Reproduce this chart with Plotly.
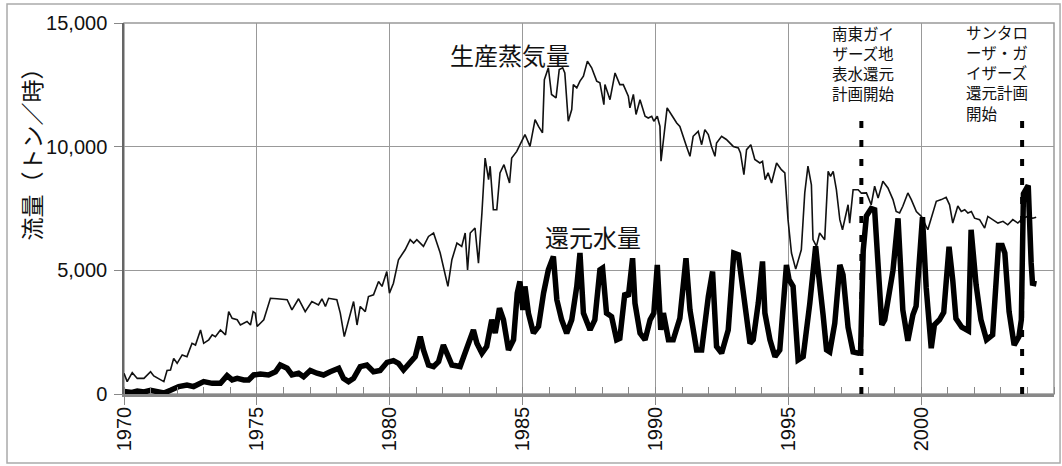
import plotly.graph_objects as go

# ---------------- data ----------------
steam_year = [
    1970.00, 1970.12, 1970.31, 1970.50, 1970.75, 1971.00, 1971.12, 1971.37, 1971.50, 1971.62,
    1971.75, 1971.87, 1972.00, 1972.19, 1972.37, 1972.56, 1972.69, 1972.88, 1973.00, 1973.19,
    1973.32, 1973.44, 1973.63, 1973.82, 1973.94, 1974.07, 1974.26, 1974.38, 1974.63, 1974.76,
    1974.86, 1974.94, 1975.01, 1975.26, 1975.51, 1975.76, 1976.14, 1976.32, 1976.57, 1976.82,
    1977.07, 1977.32, 1977.45, 1977.58, 1977.70, 1978.01, 1978.14, 1978.29, 1978.45, 1978.64,
    1978.77, 1978.89, 1979.08, 1979.20, 1979.39, 1979.58, 1979.71, 1979.89, 1979.99, 1980.14,
    1980.33, 1980.58, 1980.77, 1980.90, 1981.02, 1981.27, 1981.46, 1981.65, 1981.90, 1982.09,
    1982.19, 1982.34, 1982.53, 1982.71, 1982.84, 1982.93, 1983.03, 1983.21, 1983.34, 1983.47,
    1983.59, 1983.72, 1983.78, 1983.90, 1984.03, 1984.15, 1984.30, 1984.51, 1984.59, 1984.78,
    1984.97, 1985.09, 1985.28, 1985.47, 1985.60, 1985.75, 1985.82, 1985.97, 1986.09, 1986.26,
    1986.38, 1986.51, 1986.59, 1986.72, 1986.85, 1986.91, 1987.04, 1987.16, 1987.29, 1987.44,
    1987.60, 1987.79, 1987.91, 1988.06, 1988.10, 1988.29, 1988.48, 1988.66, 1988.79, 1988.98,
    1989.04, 1989.17, 1989.27, 1989.42, 1989.61, 1989.73, 1989.86, 1989.94, 1990.07, 1990.17,
    1990.21, 1990.30, 1990.44, 1990.64, 1990.80, 1990.92, 1991.05, 1991.17, 1991.30, 1991.42,
    1991.61, 1991.74, 1991.86, 1991.99, 1992.11, 1992.24, 1992.30, 1992.49, 1992.67, 1992.93,
    1993.12, 1993.20, 1993.33, 1993.43, 1993.59, 1993.74, 1993.93, 1994.03, 1994.13, 1994.24,
    1994.37, 1994.56, 1994.74, 1994.87, 1994.99, 1995.12, 1995.28, 1995.49, 1995.62, 1995.74,
    1995.87, 1995.93, 1996.06, 1996.18, 1996.37, 1996.50, 1996.59, 1996.69, 1996.81, 1996.94,
    1997.04, 1997.25, 1997.31, 1997.44, 1997.63, 1997.75, 1997.94, 1998.12, 1998.25, 1998.38,
    1998.56, 1998.75, 1998.94, 1999.06, 1999.19, 1999.31, 1999.50, 1999.63, 1999.82, 2000.01,
    2000.25, 2000.44, 2000.57, 2000.76, 2000.94, 2001.07, 2001.19, 2001.38, 2001.51, 2001.64,
    2001.76, 2001.89, 2002.01, 2002.20, 2002.39, 2002.51, 2002.70, 2002.89, 2003.08, 2003.26,
    2003.45, 2003.64, 2003.83, 2004.01, 2004.20, 2004.33,
]
steam_flow = [
    840, 500, 860, 630, 630, 900, 730, 570, 500, 950,
    970, 1440, 1240, 1580, 1510, 2050, 1980, 2590, 2050, 2190,
    2390, 2320, 2590, 2390, 3330, 3060, 3000, 2790, 2930, 2790,
    3330, 3270, 2730, 3000, 3870, 3850, 3810, 3400, 3850, 3330,
    3740, 3600, 3850, 3540, 3870, 3810, 3270, 2320, 2930, 3740,
    2790, 3540, 3330, 3940, 4010, 4550, 4350, 4950, 4080, 4480,
    5430, 5830, 6240, 6100, 6240, 5970, 6370, 6510, 5700, 4890,
    4350, 5430, 6100, 5970, 6510, 5020, 6510, 6710, 5290, 7320,
    9540, 8670, 9210, 7450, 7450, 8940, 9270, 8530, 9540, 9810,
    10220, 10490, 10010, 11090, 10820, 10560, 12710, 13190, 12110, 11970,
    13120, 13190, 12980, 11030, 11500, 12510, 12380, 12650, 12850, 13460,
    13190, 12650, 12580, 11700, 12510, 11900, 12980, 12510, 12510, 12040,
    11570, 12110, 11300, 11900, 11230, 11160, 11230, 11030, 11230, 10820,
    9410, 10290, 11570, 11230, 10960, 10820, 10350, 10010, 9610, 10420,
    10620, 10080, 10690, 10490, 10010, 9610, 10150, 10420, 10290, 10010,
    9950, 9750, 8870, 9880, 10080, 9480, 9340, 9410, 8670, 8940,
    8530, 9340, 9070, 8940, 7050, 5700, 5050, 5830, 8130, 9210,
    8460, 6240, 5970, 6510, 6240, 9000, 8800, 9000, 8260, 7050,
    6640, 7650, 6910, 8260, 8260, 8120, 8130, 7650, 8400, 7920,
    8600, 8330, 7860, 7380, 7320, 7590, 8130, 7860, 7380, 7180,
    6640, 7380, 7790, 7860, 7950, 7650, 6910, 7600, 7380, 7450,
    7320, 7380, 7110, 7050, 6710, 7180, 7050, 6910, 6980, 6840,
    7050, 6910, 7110, 7180, 7110, 7150,
]

inj_year = [
    1970.00, 1970.30, 1970.50, 1970.75, 1971.00, 1971.30, 1971.50, 1971.75, 1972.06, 1972.37,
    1972.62, 1973.00, 1973.32, 1973.63, 1973.88, 1974.07, 1974.26, 1974.51, 1974.69, 1974.88,
    1975.13, 1975.44, 1975.70, 1975.88, 1976.14, 1976.32, 1976.57, 1976.76, 1977.01, 1977.26,
    1977.51, 1977.76, 1978.08, 1978.26, 1978.45, 1978.64, 1978.89, 1979.14, 1979.39, 1979.64,
    1979.90, 1980.14, 1980.33, 1980.52, 1980.77, 1980.96, 1981.15, 1981.27, 1981.46, 1981.65,
    1981.84, 1982.02, 1982.15, 1982.34, 1982.65, 1982.90, 1983.15, 1983.28, 1983.47, 1983.65,
    1983.84, 1983.97, 1984.13, 1984.28, 1984.47, 1984.66, 1984.80, 1984.90, 1985.01, 1985.09,
    1985.22, 1985.41, 1985.60, 1985.79, 1985.97, 1986.16, 1986.29, 1986.47, 1986.66, 1986.85,
    1987.04, 1987.16, 1987.29, 1987.54, 1987.72, 1987.91, 1988.01, 1988.16, 1988.35, 1988.54,
    1988.66, 1988.85, 1988.98, 1989.14, 1989.23, 1989.42, 1989.61, 1989.80, 1989.94, 1990.07,
    1990.20, 1990.30, 1990.49, 1990.67, 1990.92, 1991.15, 1991.30, 1991.55, 1991.74, 1991.99,
    1992.15, 1992.30, 1992.49, 1992.74, 1992.95, 1993.12, 1993.31, 1993.56, 1993.68, 1993.87,
    1994.03, 1994.12, 1994.31, 1994.50, 1994.68, 1994.93, 1995.03, 1995.18, 1995.37, 1995.56,
    1995.81, 1996.03, 1996.12, 1996.19, 1996.31, 1996.44, 1996.56, 1996.75, 1996.94, 1997.06,
    1997.25, 1997.44, 1997.63, 1997.72, 1997.82, 1997.94, 1998.12, 1998.25, 1998.38, 1998.52,
    1998.63, 1998.75, 1998.94, 1999.13, 1999.22, 1999.31, 1999.50, 1999.69, 1999.81, 1999.94,
    2000.05, 2000.19, 2000.38, 2000.50, 2000.69, 2000.85, 2001.05, 2001.19, 2001.31, 2001.53,
    2001.78, 2001.88, 2001.96, 2002.07, 2002.25, 2002.46, 2002.69, 2002.91, 2003.05, 2003.15,
    2003.31, 2003.50, 2003.68, 2003.77, 2003.85, 2004.03, 2004.14, 2004.19, 2004.34,
]
inj_flow = [
    100, 60, 120, 80, 150, 100, 40, 150, 300, 360,
    300, 500, 430, 430, 740, 570, 630, 570, 570, 770,
    810, 770, 900, 1170, 1040, 770, 840, 700, 950, 840,
    770, 900, 1040, 630, 500, 630, 1110, 1170, 900, 950,
    1280, 1350, 1240, 970, 1240, 1510, 2320, 1780, 1170, 1110,
    1310, 1980, 1650, 1170, 1110, 1780, 2590, 2050, 1650, 1920,
    3000, 2460, 3470, 3000, 1780, 2190, 4080, 4550, 3400, 4350,
    3270, 2460, 2730, 4080, 5020, 5560, 3810, 3000, 2460, 3000,
    4350, 5700, 3270, 2590, 3000, 5020, 5090, 3270, 3130, 2190,
    2250, 4080, 3940, 5490, 3670, 2460, 2190, 3000, 3270, 5220,
    2590, 3270, 2190, 2190, 3060, 5490, 3400, 1780, 1780, 3940,
    4950, 1920, 1650, 2590, 5700, 5630, 4080, 2050, 2190, 3670,
    5360, 3270, 2190, 1510, 1780, 5220, 4620, 4350, 1380, 1510,
    3670, 5970, 5020, 4480, 3200, 1780, 1700, 2860, 5220, 4820,
    2700, 1700, 1650, 1700, 5800, 7200, 7500, 7450, 5430, 2800,
    3000, 3900, 5000, 7100, 5400, 3400, 2150, 3200, 3550, 5700,
    7150, 4300, 1850, 2800, 3000, 3300, 5950, 4600, 3050, 2700,
    2550, 6640, 5700, 4400, 3000, 2190, 2390, 6000, 6000, 5700,
    3330, 1980, 2320, 3000, 8100, 8430, 5300, 4480, 4450,
]

event_years = [1997.75, 2003.80]        # project start markers
event_top = 11300                       # height of dashed marker (t/h)
event_labels = [
    "南東ガイ<br>ザーズ地<br>表水還元<br>計画開始",
    "サンタロ<br>ーザ・ガ<br>イザーズ<br>還元計画<br>開始",
]

y_ticks = [0, 5000, 10000, 15000]
x_ticks = [1970, 1975, 1980, 1985, 1990, 1995, 2000]

# ---------------- figure ----------------
fig = go.Figure()

fig.add_trace(go.Scatter(x=steam_year, y=steam_flow, mode="lines",
                         line=dict(color="#111111", width=1.6),
                         name="生産蒸気量", showlegend=False, hoverinfo="skip"))
fig.add_trace(go.Scatter(x=inj_year, y=inj_flow, mode="lines",
                         line=dict(color="#000000", width=5.5),
                         name="還元水量", showlegend=False, hoverinfo="skip"))
for ey in event_years:
    fig.add_trace(go.Scatter(x=[ey, ey], y=[0, event_top], mode="lines",
                             line=dict(color="#000000", width=4, dash="7px,12px"),
                             showlegend=False, hoverinfo="skip"))

cjk = "Noto Sans CJK JP"
tickfont = dict(family="Liberation Sans, Arial", size=20, color="#111111")

ann = []
ann.append(dict(x=1984.51, y=13730, xref="x", yref="y", text="生産蒸気量",
                showarrow=False, font=dict(family=cjk, size=24, color="#111111")))
ann.append(dict(x=1987.65, y=6370, xref="x", yref="y", text="還元水量",
                showarrow=False, font=dict(family=cjk, size=24, color="#111111")))
# event label blocks
ann.append(dict(x=1997.84, y=1.008, xref="x", yref="paper", text=event_labels[0],
                showarrow=False, xanchor="center", yanchor="top", align="center",
                font=dict(family=cjk, size=15.5, color="#111111")))
ann.append(dict(x=2001.62, y=1.012, xref="x", yref="paper", text=event_labels[1],
                showarrow=False, xanchor="left", yanchor="top", align="left",
                font=dict(family=cjk, size=15.5, color="#111111")))
# y axis title
ann.append(dict(x=-0.1, y=0.662, xref="paper", yref="paper", text="流量（トン／時）",
                textangle=-90, showarrow=False, xanchor="center", yanchor="middle",
                font=dict(family=cjk, size=23, color="#111111")))

shapes = [
    # plot frame
    dict(type="rect", xref="paper", yref="paper", x0=0, x1=1, y0=0, y1=1,
         line=dict(color="#999999", width=1.5), layer="below"),
    # outer chart frame
    dict(type="rect", xref="paper", yref="paper", x0=-0.1258, x1=1.0065, y0=-0.186, y1=1.0512,
         line=dict(color="#aaaaaa", width=1.5), layer="below"),
]

fig.update_layout(
    width=1062, height=466,
    margin=dict(l=124, r=8, t=23, b=72),
    paper_bgcolor="white", plot_bgcolor="white",
    annotations=ann, shapes=shapes,
    xaxis=dict(range=[1970, 2005], tickmode="array", tickvals=x_ticks,
               ticktext=[str(v) for v in x_ticks], tickangle=-90,
               tickfont=tickfont, showgrid=True, gridcolor="#999999", gridwidth=1.3,
               zeroline=False, showline=True, linecolor="#888888", linewidth=2.5,
               ticks="outside", ticklen=8, tickcolor="#888888", tickwidth=1.3,
               ticklabelstandoff=-6,
               minor=dict(ticks="inside", dtick=1, ticklen=7, tickcolor="#888888",
                          tickwidth=1.2, showgrid=False)),
    yaxis=dict(range=[0, 15000], tickmode="array", tickvals=y_ticks,
               ticktext=[f"{v:,}" for v in y_ticks],
               tickfont=tickfont, showgrid=True, gridcolor="#999999", gridwidth=1.3,
               zeroline=False, showline=True, linecolor="#666666", linewidth=1.5,
               ticks="outside", ticklen=8, tickcolor="#888888", tickwidth=1.3,
               ticklabelstandoff=3),
)

fig.write_html("out.html", config={"displayModeBar": False},
               post_script="document.body.style.margin='0';document.body.style.padding='0';")
